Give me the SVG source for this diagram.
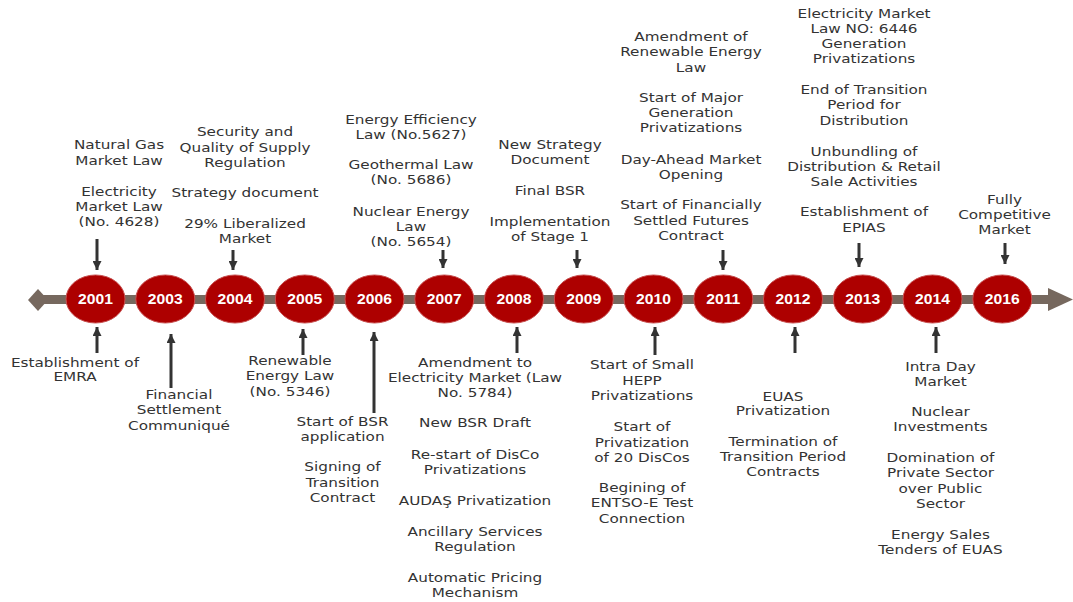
<svg xmlns="http://www.w3.org/2000/svg" width="1073" height="602" viewBox="0 0 1073 602">
  <style>
    .lbl { font-family: "DejaVu Sans", Verdana, sans-serif; font-size: 12.5px; fill: #333; text-anchor: middle; }
    .yr { fill: #ad0000; stroke: #c85050; stroke-width: 1; }
    .yrt { font-family: "Liberation Sans", Arial, sans-serif; font-size: 14px; font-weight: bold; fill: #fff; text-anchor: middle; }
    .conn { stroke: #333; stroke-width: 3; fill: none; }
    .axis { fill: #76685e; }
  </style>
  <defs>
    <marker id="ah" viewBox="0 0 10 10" refX="10" refY="5" markerWidth="9" markerHeight="9" markerUnits="userSpaceOnUse" orient="auto">
      <path d="M0,0 L10,5 L0,10 Z" fill="#333"/>
    </marker>
  </defs>
  <rect width="1073" height="602" fill="#fff"/>

  <!-- time axis -->
  <g id="axis">
    <rect class="axis" x="38" y="295" width="1014" height="9"/>
    <polygon class="axis" points="28,300 38,289 48,300 38,311"/>
    <polygon class="axis" points="1048,288 1073,299.5 1048,311"/>
  </g>

  <!-- connectors -->
  <g id="connectors">
    <line class="conn" x1="97" y1="239" x2="97" y2="270" marker-end="url(#ah)"/>
    <line class="conn" x1="233" y1="250" x2="233" y2="270" marker-end="url(#ah)"/>
    <line class="conn" x1="443" y1="250" x2="443" y2="268" marker-end="url(#ah)"/>
    <line class="conn" x1="577" y1="250" x2="577" y2="268" marker-end="url(#ah)"/>
    <line class="conn" x1="723" y1="250" x2="723" y2="270" marker-end="url(#ah)"/>
    <line class="conn" x1="859" y1="243" x2="859" y2="267" marker-end="url(#ah)"/>
    <line class="conn" x1="1005" y1="243" x2="1005" y2="264" marker-end="url(#ah)"/>

    <line class="conn" x1="97" y1="353" x2="97" y2="327" marker-end="url(#ah)"/>
    <line class="conn" x1="171" y1="388" x2="171" y2="334" marker-end="url(#ah)"/>
    <line class="conn" x1="303" y1="355" x2="303" y2="329" marker-end="url(#ah)"/>
    <line class="conn" x1="374" y1="413" x2="374" y2="332" marker-end="url(#ah)"/>
    <line class="conn" x1="517" y1="353" x2="517" y2="327" marker-end="url(#ah)"/>
    <line class="conn" x1="655" y1="355" x2="655" y2="327" marker-end="url(#ah)"/>
    <line class="conn" x1="795" y1="353" x2="795" y2="327" marker-end="url(#ah)"/>
    <line class="conn" x1="936" y1="353" x2="936" y2="327" marker-end="url(#ah)"/>
  </g>

  <!-- year nodes -->
  <g id="y2001"><ellipse class="yr" cx="95.5" cy="299" rx="29.5" ry="24"/><text class="yrt" transform="translate(95.5 304) scale(1.12 1)">2001</text></g>
  <g id="y2003"><ellipse class="yr" cx="165.3" cy="299" rx="29.5" ry="24"/><text class="yrt" transform="translate(165.3 304) scale(1.12 1)">2003</text></g>
  <g id="y2004"><ellipse class="yr" cx="235" cy="299" rx="29.5" ry="24"/><text class="yrt" transform="translate(235 304) scale(1.12 1)">2004</text></g>
  <g id="y2005"><ellipse class="yr" cx="304.8" cy="299" rx="29.5" ry="24"/><text class="yrt" transform="translate(304.8 304) scale(1.12 1)">2005</text></g>
  <g id="y2006"><ellipse class="yr" cx="374.5" cy="299" rx="29.5" ry="24"/><text class="yrt" transform="translate(374.5 304) scale(1.12 1)">2006</text></g>
  <g id="y2007"><ellipse class="yr" cx="444.3" cy="299" rx="29.5" ry="24"/><text class="yrt" transform="translate(444.3 304) scale(1.12 1)">2007</text></g>
  <g id="y2008"><ellipse class="yr" cx="514" cy="299" rx="29.5" ry="24"/><text class="yrt" transform="translate(514 304) scale(1.12 1)">2008</text></g>
  <g id="y2009"><ellipse class="yr" cx="583.8" cy="299" rx="29.5" ry="24"/><text class="yrt" transform="translate(583.8 304) scale(1.12 1)">2009</text></g>
  <g id="y2010"><ellipse class="yr" cx="653.5" cy="299" rx="29.5" ry="24"/><text class="yrt" transform="translate(653.5 304) scale(1.12 1)">2010</text></g>
  <g id="y2011"><ellipse class="yr" cx="723.3" cy="299" rx="29.5" ry="24"/><text class="yrt" transform="translate(723.3 304) scale(1.12 1)">2011</text></g>
  <g id="y2012"><ellipse class="yr" cx="793" cy="299" rx="29.5" ry="24"/><text class="yrt" transform="translate(793 304) scale(1.12 1)">2012</text></g>
  <g id="y2013"><ellipse class="yr" cx="862.8" cy="299" rx="29.5" ry="24"/><text class="yrt" transform="translate(862.8 304) scale(1.12 1)">2013</text></g>
  <g id="y2014"><ellipse class="yr" cx="932.5" cy="299" rx="29.5" ry="24"/><text class="yrt" transform="translate(932.5 304) scale(1.12 1)">2014</text></g>
  <g id="y2016"><ellipse class="yr" cx="1002.3" cy="299" rx="29.5" ry="24"/><text class="yrt" transform="translate(1002.3 304) scale(1.12 1)">2016</text></g>

  <!-- events above the axis -->
  <g id="ev2001" transform="translate(119 0) scale(1.22 1)">
    <text class="lbl"><tspan x="0" y="149.5">Natural Gas</tspan><tspan x="0" y="165.5">Market Law</tspan><tspan x="0" y="196.5">Electricity</tspan><tspan x="0" y="211.5">Market Law</tspan><tspan x="0" y="226.5">(No. 4628)</tspan></text>
  </g>
  <g id="ev2004" transform="translate(245 0) scale(1.22 1)">
    <text class="lbl"><tspan x="0" y="136.5">Security and</tspan><tspan x="0" y="152.5">Quality of Supply</tspan><tspan x="0" y="167.5">Regulation</tspan><tspan x="0" y="197.5">Strategy document</tspan><tspan x="0" y="228.5">29% Liberalized</tspan><tspan x="0" y="243.5">Market</tspan></text>
  </g>
  <g id="ev2007" transform="translate(411 0) scale(1.22 1)">
    <text class="lbl"><tspan x="0" y="124.5">Energy Efficiency</tspan><tspan x="0" y="139.5">Law (No.5627)</tspan><tspan x="0" y="169.5">Geothermal Law</tspan><tspan x="0" y="184.5">(No. 5686)</tspan><tspan x="0" y="216.5">Nuclear Energy</tspan><tspan x="0" y="231.5">Law</tspan><tspan x="0" y="246.5">(No. 5654)</tspan></text>
  </g>
  <g id="ev2009" transform="translate(550 0) scale(1.22 1)">
    <text class="lbl"><tspan x="0" y="149.5">New Strategy</tspan><tspan x="0" y="164.5">Document</tspan><tspan x="0" y="195.5">Final BSR</tspan><tspan x="0" y="226.5">Implementation</tspan><tspan x="0" y="241.5">of Stage 1</tspan></text>
  </g>
  <g id="ev2011" transform="translate(691 0) scale(1.22 1)">
    <text class="lbl"><tspan x="0" y="41.5">Amendment of</tspan><tspan x="0" y="56.5">Renewable Energy</tspan><tspan x="0" y="72.5">Law</tspan><tspan x="0" y="102.5">Start of Major</tspan><tspan x="0" y="117.5">Generation</tspan><tspan x="0" y="132.5">Privatizations</tspan><tspan x="0" y="164.5">Day-Ahead Market</tspan><tspan x="0" y="179.5">Opening</tspan><tspan x="0" y="209.5">Start of Financially</tspan><tspan x="0" y="225.5">Settled Futures</tspan><tspan x="0" y="240.5">Contract</tspan></text>
  </g>
  <g id="ev2013" transform="translate(864 0) scale(1.22 1)">
    <text class="lbl"><tspan x="0" y="18.5">Electricity Market</tspan><tspan x="0" y="33.5">Law NO: 6446</tspan><tspan x="0" y="48.5">Generation</tspan><tspan x="0" y="63.5">Privatizations</tspan><tspan x="0" y="94.5">End of Transition</tspan><tspan x="0" y="109.5">Period for</tspan><tspan x="0" y="125.5">Distribution</tspan><tspan x="0" y="156.5">Unbundling of</tspan><tspan x="0" y="171.5">Distribution &amp; Retail</tspan><tspan x="0" y="186.5">Sale Activities</tspan><tspan x="0" y="216.5">Establishment of</tspan><tspan x="0" y="232.5">EPIAS</tspan></text>
  </g>
  <g id="ev2016" transform="translate(1004.5 0) scale(1.22 1)">
    <text class="lbl"><tspan x="0" y="204.5">Fully</tspan><tspan x="0" y="219.5">Competitive</tspan><tspan x="0" y="234.5">Market</tspan></text>
  </g>

  <!-- events below the axis -->
  <g id="ev2001b" transform="translate(75 0) scale(1.22 1)">
    <text class="lbl"><tspan x="0" y="367.5">Establishment of</tspan><tspan x="0" y="381.5">EMRA</tspan></text>
  </g>
  <g id="ev2003b" transform="translate(179 0) scale(1.22 1)">
    <text class="lbl"><tspan x="0" y="399.5">Financial</tspan><tspan x="0" y="414.5">Settlement</tspan><tspan x="0" y="430.5">Communiqué</tspan></text>
  </g>
  <g id="ev2005b" transform="translate(290 0) scale(1.22 1)">
    <text class="lbl"><tspan x="0" y="365.5">Renewable</tspan><tspan x="0" y="380.5">Energy Law</tspan><tspan x="0" y="396.5">(No. 5346)</tspan></text>
  </g>
  <g id="ev2006b" transform="translate(342.5 0) scale(1.22 1)">
    <text class="lbl"><tspan x="0" y="426.5">Start of BSR</tspan><tspan x="0" y="441.5">application</tspan><tspan x="0" y="471.5">Signing of</tspan><tspan x="0" y="487.5">Transition</tspan><tspan x="0" y="502.5">Contract</tspan></text>
  </g>
  <g id="ev2008b" transform="translate(475 0) scale(1.22 1)">
    <text class="lbl"><tspan x="0" y="367.5">Amendment to</tspan><tspan x="0" y="382.5">Electricity Market (Law</tspan><tspan x="0" y="397.5">No. 5784)</tspan><tspan x="0" y="427.5">New BSR Draft</tspan><tspan x="0" y="459.5">Re-start of DisCo</tspan><tspan x="0" y="474.5">Privatizations</tspan><tspan x="0" y="505.5">AUDAŞ Privatization</tspan><tspan x="0" y="536.5">Ancillary Services</tspan><tspan x="0" y="551.5">Regulation</tspan><tspan x="0" y="582.5">Automatic Pricing</tspan><tspan x="0" y="597.5">Mechanism</tspan></text>
  </g>
  <g id="ev2010b" transform="translate(642 0) scale(1.22 1)">
    <text class="lbl"><tspan x="0" y="369.5">Start of Small</tspan><tspan x="0" y="385.5">HEPP</tspan><tspan x="0" y="400.5">Privatizations</tspan><tspan x="0" y="431.5">Start of</tspan><tspan x="0" y="447.5">Privatization</tspan><tspan x="0" y="462.5">of 20 DisCos</tspan><tspan x="0" y="492.5">Begining of</tspan><tspan x="0" y="507.5">ENTSO-E Test</tspan><tspan x="0" y="523.5">Connection</tspan></text>
  </g>
  <g id="ev2012b" transform="translate(783 0) scale(1.22 1)">
    <text class="lbl"><tspan x="0" y="401.5">EUAS</tspan><tspan x="0" y="415.5">Privatization</tspan><tspan x="0" y="446.5">Termination of</tspan><tspan x="0" y="461.5">Transition Period</tspan><tspan x="0" y="476.5">Contracts</tspan></text>
  </g>
  <g id="ev2014b" transform="translate(940.5 0) scale(1.22 1)">
    <text class="lbl"><tspan x="0" y="371.5">Intra Day</tspan><tspan x="0" y="386.5">Market</tspan><tspan x="0" y="416.5">Nuclear</tspan><tspan x="0" y="431.5">Investments</tspan><tspan x="0" y="462.5">Domination of</tspan><tspan x="0" y="477.5">Private Sector</tspan><tspan x="0" y="493.5">over Public</tspan><tspan x="0" y="508.5">Sector</tspan><tspan x="0" y="539.5">Energy Sales</tspan><tspan x="0" y="554.5">Tenders of EUAS</tspan></text>
  </g>
</svg>
